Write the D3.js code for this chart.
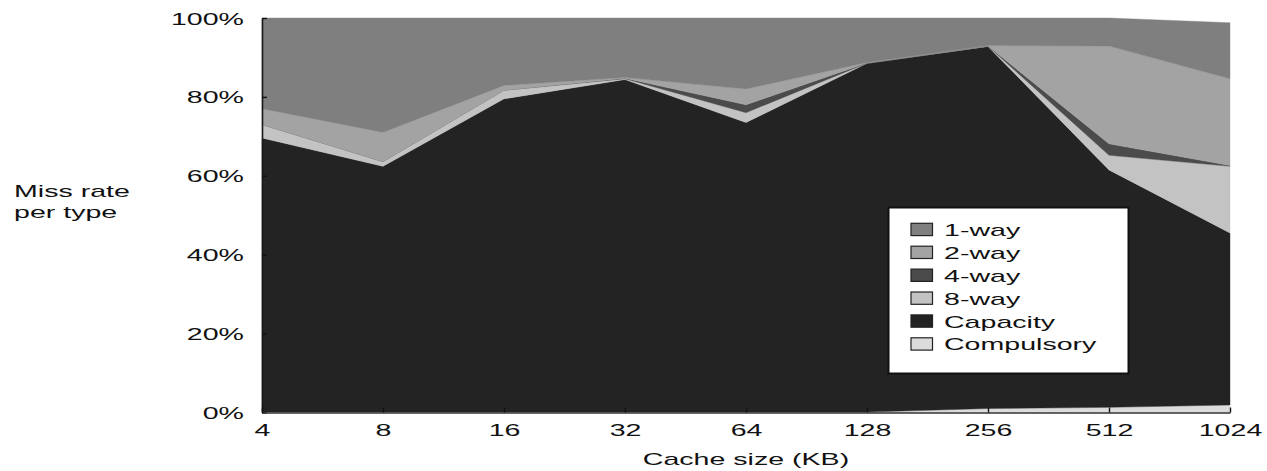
<!DOCTYPE html>
<html>
<head>
<meta charset="utf-8">
<script src="https://cdn.jsdelivr.net/npm/d3@7/dist/d3.min.js"></script>
<style>
  html, body { margin: 0; padding: 0; background: #fff; }
  svg { display: block; }
  text { font-family: "Liberation Sans", Arial, Helvetica, sans-serif; fill: #111; }
</style>
</head>
<body>
<svg id="chart" width="1267" height="471"></svg>
<script>
// Cache sizes (KB) along the x axis
const cacheSizes = ["4", "8", "16", "32", "64", "128", "256", "512", "1024"];

// Share of misses per type (percent), bottom layer first
const compulsory = [0.1, 0.1, 0.1, 0.1, 0.1, 0.1, 1.0, 1.3, 1.9];
const capacity   = [69.5, 62.3, 79.4, 84.3, 73.4, 88.4, 91.8, 60.2, 43.6];
const way8       = [3.4, 1.2, 2.2, 0.2, 2.5, 0.05, 0.05, 3.7, 16.9];
const way4       = [0.0, 0.0, 0.0, 0.1, 2.0, 0.05, 0.05, 2.9, 0.2];
const way2       = [4.0, 7.4, 1.2, 0.2, 4.0, 0.1, 0.1, 24.8, 22.0];
const way1       = [23.0, 29.0, 17.1, 15.1, 18.0, 11.3, 7.0, 7.1, 14.2];

const yTicks = [0, 20, 40, 60, 80, 100];

const seriesNames  = ["Compulsory", "Capacity", "8-way", "4-way", "2-way", "1-way"];
const seriesValues = [compulsory, capacity, way8, way4, way2, way1];
const seriesColors = ["#dcdcdc", "#232323", "#c3c3c3", "#4b4b4b", "#a3a3a3", "#7f7f7f"];
const legendOrder  = ["1-way", "2-way", "4-way", "8-way", "Capacity", "Compulsory"];

// Text in this figure is set wide
const SX = 1.68;
const FS = 17;

const svg = d3.select("#chart");

const rows = cacheSizes.map((s, i) => {
  const r = { size: s };
  seriesNames.forEach((n, k) => { r[n] = seriesValues[k][i]; });
  return r;
});

const x = d3.scalePoint().domain(cacheSizes).range([262, 1230]);
const y = d3.scaleLinear().domain([0, 100]).range([412.5, 18]);

const stacked = d3.stack().keys(seriesNames)(rows);

const area = d3.area()
  .x(d => x(d.data.size))
  .y0(d => y(d[0]))
  .y1(d => y(d[1]));

const color = d3.scaleOrdinal().domain(seriesNames).range(seriesColors);

svg.append("g")
  .selectAll("path")
  .data(stacked)
  .join("path")
  .attr("d", area)
  .attr("fill", d => color(d.key))
  .attr("stroke", d => color(d.key))
  .attr("stroke-width", 0.4);

// Y axis with inward ticks
const yAxis = svg.append("g")
  .attr("transform", "translate(262,0)")
  .call(d3.axisLeft(y).tickValues(yTicks).tickFormat(d => d + "%").tickSizeInner(-5).tickSizeOuter(0));
yAxis.select(".domain").attr("stroke", "#1a1a1a").attr("stroke-width", 1.6);
yAxis.selectAll(".tick line").attr("stroke", "#111").attr("stroke-width", 1.4);
yAxis.selectAll(".tick text")
  .attr("x", null).attr("dy", null)
  .attr("text-anchor", "end")
  .attr("font-size", FS)
  .attr("transform", `translate(-18,6) scale(${SX},1)`);

// X axis with inward ticks
const xAxis = svg.append("g")
  .attr("transform", "translate(0,412.5)")
  .call(d3.axisBottom(x).tickSizeInner(-5).tickSizeOuter(0));
xAxis.select(".domain").attr("stroke", "#333").attr("stroke-width", 1.6);
xAxis.selectAll(".tick line").attr("stroke", "#111").attr("stroke-width", 1.4);
xAxis.selectAll(".tick text")
  .attr("y", null).attr("dy", null)
  .attr("text-anchor", "middle")
  .attr("font-size", FS)
  .attr("transform", `translate(0,23) scale(${SX},1)`);

// Axis titles
function wideText(px, py, str, anchor) {
  svg.append("text")
    .attr("transform", `translate(${px},${py}) scale(${SX},1)`)
    .attr("text-anchor", anchor || "start")
    .attr("font-size", FS)
    .text(str);
}
wideText(14, 197, "Miss rate");
wideText(14, 218, "per type");
wideText(746, 465, "Cache size (KB)", "middle");

// Legend
const lg = svg.append("g");
lg.append("rect")
  .attr("x", 888.5).attr("y", 207.5)
  .attr("width", 240).attr("height", 166)
  .attr("fill", "#fff").attr("stroke", "#111").attr("stroke-width", 2);

legendOrder.forEach((name, i) => {
  const ry = 223.3 + i * 22.9;
  lg.append("rect")
    .attr("x", 911).attr("y", ry)
    .attr("width", 21.5).attr("height", 12.3)
    .attr("fill", color(name))
    .attr("stroke", "#222").attr("stroke-width", 1.2);
  lg.append("text")
    .attr("transform", `translate(944,${ry + 12.6}) scale(${SX},1)`)
    .attr("font-size", FS)
    .text(name);
});
</script>
</body>
</html>
